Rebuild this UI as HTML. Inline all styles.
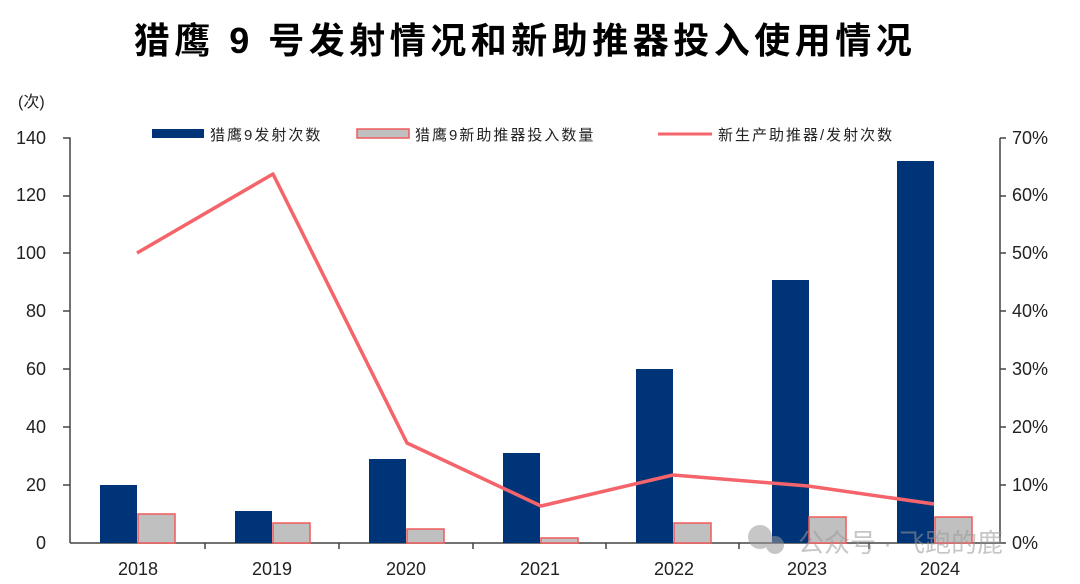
<!DOCTYPE html>
<html><head><meta charset="utf-8"><style>
body{margin:0;background:#fff;}
svg{display:block;font-family:"Liberation Sans","Noto Sans CJK SC",sans-serif;}
</style></head><body>
<svg width="1080" height="584" viewBox="0 0 1080 584">
<text x="525" y="53" text-anchor="middle" font-size="36" letter-spacing="4.5" font-weight="bold" fill="#000">猎鹰 9 号发射情况和新助推器投入使用情况</text>
<text x="18" y="107" font-size="16" fill="#222">(次)</text>
<g font-size="18" fill="#222" text-anchor="end">
<text x="46" y="549">0</text><text x="46" y="491">20</text><text x="46" y="433">40</text><text x="46" y="375">60</text><text x="46" y="317">80</text><text x="46" y="259">100</text><text x="46" y="201">120</text><text x="46" y="144">140</text>
</g>
<g font-size="18" fill="#222">
<text x="1012" y="549">0%</text><text x="1012" y="491">10%</text><text x="1012" y="433">20%</text><text x="1012" y="375">30%</text><text x="1012" y="317">40%</text><text x="1012" y="259">50%</text><text x="1012" y="201">60%</text><text x="1012" y="144">70%</text>
</g>
<g stroke="#444" stroke-width="1.5" fill="none">
<path d="M63 138H70V543"/>
<path d="M1000 138V543"/>
<path d="M70 543H1000"/>
<path d="M63 485H70M63 427H70M63 369H70M63 311H70M63 253H70M63 196H70"/>
<path d="M1000 485H1006M1000 427H1006M1000 369H1006M1000 311H1006M1000 253H1006M1000 196H1006M1000 138H1006M1000 543H1006"/>
<path d="M205 543v6M339 543v6M473 543v6M606 543v6M739 543v6M869 543v6"/>
</g>
<g fill="#003478">
<rect x="100" y="485" width="37" height="58"/>
<rect x="235" y="511" width="37" height="32"/>
<rect x="369" y="459" width="37" height="84"/>
<rect x="503" y="453" width="37" height="90"/>
<rect x="636" y="369" width="37" height="174"/>
<rect x="772" y="280" width="37" height="263"/>
<rect x="897" y="161" width="37" height="382"/>
</g>
<g fill="#c0c0c0" stroke="#f05a5a" stroke-width="1.5">
<rect x="138" y="514" width="37" height="29"/>
<rect x="273" y="523" width="37" height="20"/>
<rect x="407" y="529" width="37" height="14"/>
<rect x="541" y="538" width="37" height="5"/>
<rect x="674" y="523" width="37" height="20"/>
<rect x="809" y="517" width="37" height="26"/>
<rect x="935" y="517" width="37" height="26"/>
</g>
<polyline points="137,253 273,174 407,443 541,506 673,475 808,486 934,504" fill="none" stroke="#f4646a" stroke-width="3.5" stroke-linejoin="round"/>
<g font-size="18" fill="#222" text-anchor="middle">
<text x="138" y="575">2018</text><text x="272" y="575">2019</text><text x="406" y="575">2020</text><text x="540" y="575">2021</text><text x="674" y="575">2022</text><text x="807" y="575">2023</text><text x="940" y="575">2024</text>
</g>
<rect x="152" y="129" width="52" height="9" fill="#003478"/>
<text x="210" y="140" font-size="15" letter-spacing="2" fill="#222">猎鹰9发射次数</text>
<rect x="357" y="129" width="52" height="9" fill="#c0c0c0" stroke="#f05a5a" stroke-width="1.5"/>
<text x="415" y="140" font-size="15" letter-spacing="2" fill="#222">猎鹰9新助推器投入数量</text>
<line x1="658" y1="134" x2="712" y2="134" stroke="#f4646a" stroke-width="3"/>
<text x="718" y="140" font-size="15" letter-spacing="2" fill="#222">新生产助推器/发射次数</text>
<g opacity="0.55">
<circle cx="760" cy="537" r="12" fill="#999"/><circle cx="775" cy="545" r="9" fill="#999"/>
<text x="798" y="552" font-size="26" fill="#999">公众号 · 飞跑的鹿</text>
</g>
</svg>
</body></html>
